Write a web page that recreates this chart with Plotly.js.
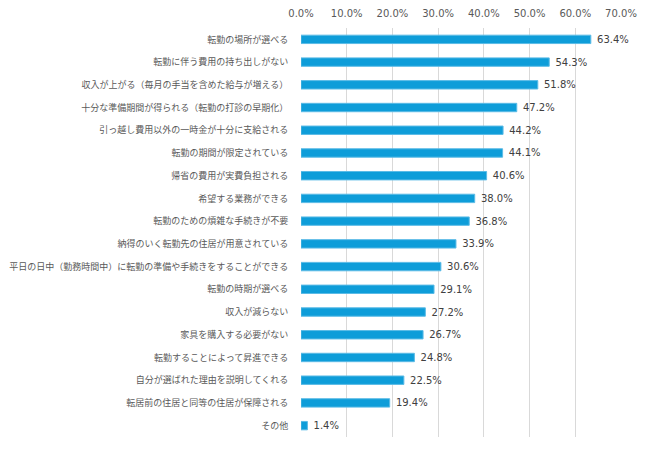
<!DOCTYPE html>
<html><head><meta charset="utf-8">
<script src="https://cdn.plot.ly/plotly-3.0.1.min.js"></script>
<style>body{margin:0;background:#fff}#c{width:650px;height:449px}</style>
</head><body><div id="c"></div>
<script>
const categories = [
"転勤の場所が選べる",
"転勤に伴う費用の持ち出しがない",
"収入が上がる（毎月の手当を含めた給与が増える）",
"十分な準備期間が得られる（転勤の打診の早期化）",
"引っ越し費用以外の一時金が十分に支給される",
"転勤の期間が限定されている",
"帰省の費用が実費負担される",
"希望する業務ができる",
"転勤のための煩雑な手続きが不要",
"納得のいく転勤先の住居が用意されている",
"平日の日中（勤務時間中）に転勤の準備や手続きをすることができる",
"転勤の時期が選べる",
"収入が減らない",
"家具を購入する必要がない",
"転勤することによって昇進できる",
"自分が選ばれた理由を説明してくれる",
"転居前の住居と同等の住居が保障される",
"その他"
];
const values = [63.4,54.3,51.8,47.2,44.2,44.1,40.6,38.0,36.8,33.9,30.6,29.1,27.2,26.7,24.8,22.5,19.4,1.4];
const tickVals = [0,10,20,30,40,50,60,70];
const tickText = tickVals.map(v=>v.toFixed(1)+'%');

const font = "DejaVu Sans, Noto Sans CJK JP, sans-serif";
Plotly.newPlot('c', [{
  type:'bar', orientation:'h',
  x: values, y: categories,
  marker:{color:'#0e9dd9', line:{color:'#5bbbe6', width:1}},
  width:0.37,
  text: values.map(v=>' '+v.toFixed(1)+'%'),
  textposition:'outside', cliponaxis:false, constraintext:'none',
  textfont:{family:font, size:10, color:'#404040'},
  hoverinfo:'none'
}], {
  width:650, height:449,
  margin:{l:301, r:29, t:28, b:12},
  paper_bgcolor:'#fff', plot_bgcolor:'#fff',
  showlegend:false,
  bargap:0.63,
  xaxis:{side:'top', range:[0,70], tickvals:tickVals, ticktext:tickText,
    showgrid:true, gridcolor:'#d9d9d9', gridwidth:1, zeroline:false,
    showline:false, ticks:'outside', ticklen:6, tickcolor:'rgba(0,0,0,0)',
    tickfont:{family:font, size:10, color:'#595959'}, fixedrange:true},
  yaxis:{autorange:'reversed', type:'category', showgrid:false, zeroline:false, showline:false,
    ticks:'outside', ticklen:10, tickcolor:'rgba(0,0,0,0)',
    tickfont:{family:"Noto Sans CJK JP, sans-serif", size:9, color:'#595959'}, fixedrange:true}
}, {displayModeBar:false, staticPlot:true});
</script></body></html>
